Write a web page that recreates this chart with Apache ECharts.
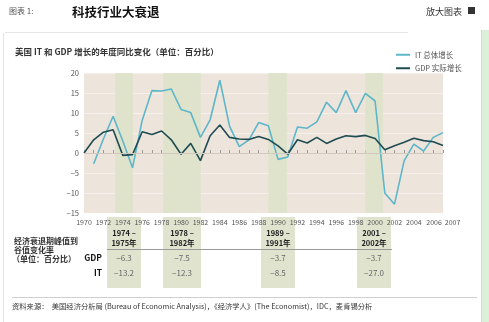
<!DOCTYPE html>
<html>
<head>
<meta charset="utf-8">
<script src="https://cdn.jsdelivr.net/npm/echarts@6/dist/echarts.min.js"></script>
<style>
html,body{margin:0;padding:0;background:#fff;}
#c{width:489px;height:322px;}
</style>
</head>
<body>
<div id="c"></div>
<script>
// ---- data ----
var years = [1970,1971,1972,1973,1974,1975,1976,1977,1978,1979,1980,1981,1982,1983,1984,1985,1986,1987,1988,1989,1990,1991,1992,1993,1994,1995,1996,1997,1998,1999,2000,2001,2002,2003,2004,2005,2006,2007];
var itGrowth = [null,-2.7,3.5,9.2,3.0,-3.7,8.2,15.6,15.5,16.0,10.9,10.1,3.9,8.3,18.2,6.7,1.6,3.3,7.6,6.8,-1.6,-1.0,6.5,6.2,7.8,12.7,10.1,15.6,10.1,14.9,13.0,-10.0,-12.8,-1.9,2.2,0.5,3.9,5.1];
var gdpGrowth = [0.0,3.3,5.2,5.8,-0.6,-0.4,5.3,4.6,5.5,3.3,-0.3,2.4,-1.9,4.3,7.0,3.9,3.5,3.4,4.1,3.4,1.8,-0.3,3.3,2.5,3.9,2.4,3.5,4.3,4.1,4.4,3.6,0.8,1.8,2.7,3.7,3.1,2.8,1.9];
var recessions = [[1973.2,1975.05],[1978.15,1982.05],[1989,1990.9],[1999,2000.8]];
var xLabelYears = [1970,1972,1974,1976,1978,1980,1982,1984,1986,1988,1990,1992,1994,1996,1998,2000,2002,2004,2006];
var lastYear = 2007;
var periodStart = ['1974 –','1978 –','1989 –','2001 –'];
var periodEnd = ['1975年','1982年','1991年','2002年'];
var gdpDrop = ['−6.3','−7.5','−3.7','−3.7'];
var itDrop = ['−13.2','−12.3','−8.5','−27.0'];
var seriesNames = ['IT 总体增长','GDP 实际增长'];

// ---- chart ----
var chart = echarts.init(document.getElementById('c'), null, {renderer:'canvas'});
var FONT = '"Noto Sans CJK SC","Noto Sans",sans-serif';
function pairs(vals){ return years.map(function(y,i){ return [y, vals[i]]; }); }

var colX = [[107,141],[163,201],[261,295],[357,391]];
var graphics = [];
graphics.push({type:'line', shape:{x1:5,y1:32.5,x2:408,y2:32.5}, style:{stroke:'#e6e6e6',lineWidth:1}});
graphics.push({type:'line', shape:{x1:3.5,y1:33,x2:3.5,y2:322}, style:{stroke:'#e3e3e3',lineWidth:1}});
graphics.push({type:'rect', shape:{x:482,y:30,width:7,height:292}, style:{fill:'#dcefd8'}});
graphics.push({type:'line', shape:{x1:481.5,y1:30,x2:481.5,y2:322}, style:{stroke:'#d8d8d8',lineWidth:1}});
graphics.push({type:'text', x:9, y:11, style:{text:'图表 1:', font:'8px '+FONT, fill:'#555', textVerticalAlign:'middle'}});
graphics.push({type:'text', x:72, y:12, style:{text:'科技行业大衰退', font:'bold 12.5px '+FONT, fill:'#111', textVerticalAlign:'middle'}});
graphics.push({type:'text', x:462, y:12, style:{text:'放大图表', font:'9px '+FONT, fill:'#333', textAlign:'right', textVerticalAlign:'middle'}});
graphics.push({type:'rect', shape:{x:468,y:7,width:7,height:7}, style:{fill:'#333'}});
graphics.push({type:'text', x:15, y:52, style:{text:'美国 IT 和 GDP 增长的年度同比变化（单位：百分比）', font:'bold 8.5px '+FONT, fill:'#333', textVerticalAlign:'middle'}});
colX.forEach(function(c,i){
  graphics.push({type:'rect', z:-1, shape:{x:c[0],y:217,width:c[1]-c[0],height:71}, style:{fill:'#e0e4cf'}});
  var cx=(c[0]+c[1])/2;
  graphics.push({type:'text', x:cx, y:233, style:{text:periodStart[i], font:'bold 7.5px '+FONT, fill:'#222', textAlign:'center', textVerticalAlign:'middle'}});
  graphics.push({type:'text', x:cx, y:243, style:{text:periodEnd[i], font:'bold 7.5px '+FONT, fill:'#222', textAlign:'center', textVerticalAlign:'middle'}});
  graphics.push({type:'text', x:cx, y:258, style:{text:gdpDrop[i], font:'8px '+FONT, fill:'#666', textAlign:'center', textVerticalAlign:'middle'}});
  graphics.push({type:'text', x:cx, y:273, style:{text:itDrop[i], font:'8px '+FONT, fill:'#666', textAlign:'center', textVerticalAlign:'middle'}});
});
graphics.push({type:'line', shape:{x1:107,y1:249.5,x2:392,y2:249.5}, style:{stroke:'#9a9a9a',lineWidth:1}});
graphics.push({type:'text', x:14, y:241, style:{text:'经济衰退期峰值到', font:'bold 8px '+FONT, fill:'#333', textVerticalAlign:'middle'}});
graphics.push({type:'text', x:14, y:250, style:{text:'谷值变化率', font:'bold 8px '+FONT, fill:'#333', textVerticalAlign:'middle'}});
graphics.push({type:'text', x:12, y:259, style:{text:'（单位：百分比）', font:'bold 8px '+FONT, fill:'#333', textVerticalAlign:'middle'}});
graphics.push({type:'text', x:102, y:258, style:{text:'GDP', font:'bold 8.5px '+FONT, fill:'#111', textAlign:'right', textVerticalAlign:'middle'}});
graphics.push({type:'text', x:102, y:273, style:{text:'IT', font:'bold 8.5px '+FONT, fill:'#111', textAlign:'right', textVerticalAlign:'middle'}});
graphics.push({type:'line', shape:{x1:12,y1:297.5,x2:477,y2:297.5}, style:{stroke:'#cfcfcf',lineWidth:1}});
graphics.push({type:'text', x:12, y:306, style:{text:'资料来源：  美国经济分析局 (Bureau of Economic Analysis)，《经济学人》(The Economist)，IDC，麦肯锡分析', font:'7.3px '+FONT, fill:'#333', textVerticalAlign:'middle'}});

var option = {
  animation:false,
  backgroundColor:'#ffffff',
  textStyle:{fontFamily:FONT},
  grid:{left:84,right:46,top:73,bottom:109,show:true,backgroundColor:'#ede4db',borderWidth:0},
  legend:{
    data:seriesNames, orient:'vertical', left:391, top:46, itemWidth:14, itemHeight:2, itemGap:6,
    icon:'rect', textStyle:{fontSize:7.5,color:'#555',fontFamily:FONT}
  },
  xAxis:{
    type:'value', min:1970, max:lastYear,
    axisLine:{show:false},
    axisTick:{show:true, inside:true, length:3, lineStyle:{color:'#9a9a9a'}, customValues:years},
    axisLabel:{fontSize:7,color:'#555',margin:6,customValues:xLabelYears,hideOverlap:false,showMaxLabel:true,showMinLabel:true,
      formatter:function(v){ return v===xLabelYears[xLabelYears.length-1] ? '{a|'+v+'}{b|'+lastYear+'}' : String(v); },
      rich:{a:{fontSize:7,color:'#555',padding:[0,0,0,20]},b:{fontSize:7,color:'#555',padding:[0,0,0,3]}}},
    splitLine:{show:false}
  },
  yAxis:{
    type:'value', min:-15, max:20, interval:5,
    axisLine:{show:false}, axisTick:{show:false},
    axisLabel:{fontSize:7.5,color:'#555',margin:5,formatter:function(v){return v<0?'−'+Math.abs(v):String(v);}},
    splitLine:{show:true,lineStyle:{color:'rgba(255,255,255,0.45)',width:1}}
  },
  series:[
    {
      name:seriesNames[0], type:'line', data:pairs(itGrowth), showSymbol:false, connectNulls:false,
      lineStyle:{color:'#5db6c9',width:1.6}, itemStyle:{color:'#5db6c9'}, z:3,
      markArea:{silent:true, itemStyle:{color:'#dfe3cc'},
        data:recessions.map(function(r){ return [{xAxis:r[0]},{xAxis:r[1]}]; })}
    },
    {
      name:seriesNames[1], type:'line', data:pairs(gdpGrowth), showSymbol:false,
      lineStyle:{color:'#1f4b52',width:1.6}, itemStyle:{color:'#1f4b52'}, z:4,
      markLine:{silent:true, symbol:'none', label:{show:false}, lineStyle:{color:'#d3c8bd',width:1,type:'solid'},
        data:[{yAxis:0}]}
    }
  ],
  graphic:graphics
};
chart.setOption(option);
</script>
</body>
</html>
